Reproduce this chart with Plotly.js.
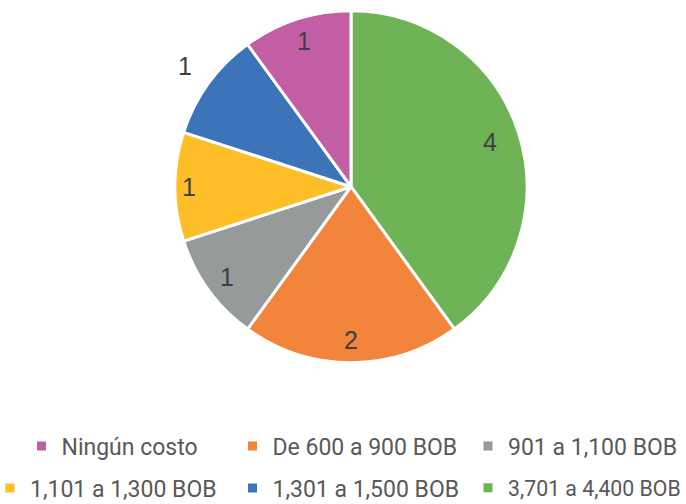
<!DOCTYPE html>
<html>
<head>
<meta charset="utf-8">
<script src="https://cdn.plot.ly/plotly-3.0.1.min.js"></script>
<style>html,body{margin:0;padding:0;background:#fff;}#chart{width:686px;height:504px;}</style>
</head>
<body>
<div id="chart"></div>
<script>
// Slices in clockwise order starting at 12 o'clock
const categories = ['3,701 a 4,400 BOB', 'De 600 a 900 BOB', '901 a 1,100 BOB', '1,101 a 1,300 BOB', '1,301 a 1,500 BOB', 'Ningún costo'];
const counts = [4, 2, 1, 1, 1, 1];
const sliceColors = ['#6EB356', '#F2843C', '#969A9A', '#FDBE28', '#3D73B9', '#C25FA4'];
// Legend order as in the reference
const legendLabels = ['Ningún costo', 'De 600 a 900 BOB', '901 a 1,100 BOB', '1,101 a 1,300 BOB', '1,301 a 1,500 BOB', '3,701 a 4,400 BOB'];

const W = 686, H = 504;
const pieDomain = {x: [175 / W, 527 / W], y: [1 - 362.7 / H, 1 - 10.7 / H]};

const pie = {
  type: 'pie',
  labels: categories,
  values: counts,
  sort: false,
  direction: 'clockwise',
  rotation: 0,
  marker: {colors: sliceColors, line: {color: '#ffffff', width: 3}},
  textinfo: 'none',
  domain: pieDomain,
  showlegend: false,
  hoverinfo: 'label+value'
};

// data labels: placed along each slice's mid-angle (Excel "best fit" style)
const total = counts.reduce((a, b) => a + b, 0);
const cx = (pieDomain.x[0] + pieDomain.x[1]) / 2 * W;
const cy = (1 - (pieDomain.y[0] + pieDomain.y[1]) / 2) * H;
const rad = (pieDomain.x[1] - pieDomain.x[0]) * W / 2;
const annotations = [];
let cum = 0;
counts.forEach((v, i) => {
  const frac = (cum + v / 2) / total;
  const a = 2 * Math.PI * frac;
  cum += v;
  const outside = categories[i] === '1,301 a 1,500 BOB';
  let f = 0.87;
  if (outside) f = 1.165;
  else if (v >= 4) f = 0.83;
  else if (Math.abs(frac - 0.75) < 0.01) f = 0.92;
  annotations.push({
    xref: 'paper', yref: 'paper', showarrow: false,
    x: (cx + f * rad * Math.sin(a)) / W,
    y: 1 - (cy - f * rad * Math.cos(a)) / H,
    xanchor: 'center', yanchor: 'middle',
    text: String(v),
    font: {family: 'Liberation Sans, Arial, sans-serif', size: 25, color: '#404040'}
  });
});

// legend entry placement (marker centre in px) and text size
const legendSpots = [[50.5, 446], [261.5, 446], [497, 446], [19, 488], [261.5, 488], [497, 488]];
const legendSizes = [23, 23, 23, 23, 23, 21.3];
const legendKeys = ['legend', 'legend2', 'legend3', 'legend4', 'legend5', 'legend6'];

const traces = [pie];
const layout = {
  width: W, height: H,
  margin: {l: 0, r: 0, t: 0, b: 0, autoexpand: false},
  paper_bgcolor: '#ffffff',
  plot_bgcolor: 'rgba(0,0,0,0)',
  xaxis: {visible: false},
  yaxis: {visible: false},
  hovermode: false,
  annotations: annotations
};

legendLabels.forEach((lab, i) => {
  const ci = categories.indexOf(lab);
  traces.push({
    type: 'scatter', mode: 'markers', x: [null], y: [null],
    name: lab, legend: legendKeys[i], showlegend: true,
    marker: {symbol: 'square', size: 9, color: sliceColors[ci]}
  });
  const [mx, my] = legendSpots[i];
  layout[legendKeys[i]] = {
    x: (mx - 29) / W, y: 1 - my / H, xanchor: 'left', yanchor: 'middle',
    bgcolor: 'rgba(0,0,0,0)', borderwidth: 0, itemwidth: 30,
    font: {family: 'Roboto, sans-serif', size: legendSizes[i], color: '#595959'}
  };
});

Plotly.newPlot('chart', traces, layout, {staticPlot: true, displayModeBar: false});
</script>
</body>
</html>
